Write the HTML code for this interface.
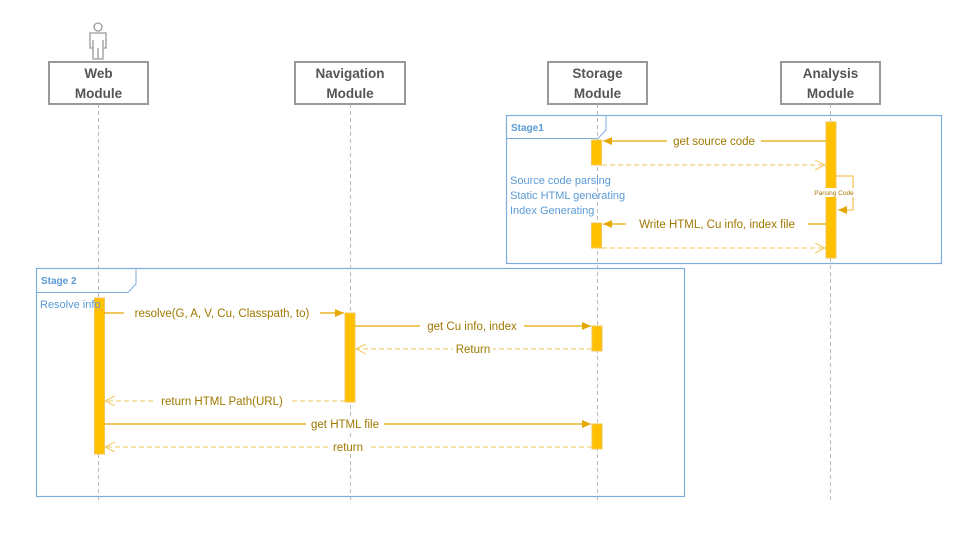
<!DOCTYPE html>
<html><head><meta charset="utf-8"><style>
html,body{margin:0;padding:0;background:#fff;width:954px;height:554px;overflow:hidden}
svg text{font-family:"Liberation Sans",sans-serif}
</style></head><body>
<svg width="954" height="554" viewBox="0 0 954 554" xmlns="http://www.w3.org/2000/svg">
<defs>
<marker id="f" markerWidth="10" markerHeight="10" refX="9" refY="4" orient="auto" markerUnits="userSpaceOnUse"><path d="M0,0 L9,4 L0,8 Z" fill="#E5A800"/></marker>
<marker id="o" markerWidth="12" markerHeight="12" refX="10" refY="5" orient="auto" markerUnits="userSpaceOnUse"><path d="M0,0 L10,5 L0,10" fill="none" stroke="#F2C65A" stroke-width="1"/></marker>
</defs>
<g stroke="#bbb" stroke-dasharray="4,3" stroke-width="1">
<line x1="98.5" y1="104" x2="98.5" y2="502"/>
<line x1="350.5" y1="104" x2="350.5" y2="502"/>
<line x1="597.5" y1="104" x2="597.5" y2="502"/>
<line x1="830.5" y1="104" x2="830.5" y2="502"/>
</g>
<g fill="none" stroke="#999" stroke-width="1.3">
<circle cx="98" cy="27" r="4"/>
<path d="M90,33 H106 V48 H103 V59 H93 V48 H90 Z M93,40 V48 M103,40 V48 M98,48 V59"/>
</g>
<g fill="#fff" stroke="#999" stroke-width="2">
<rect x="49" y="62" width="99" height="42"/>
<rect x="295" y="62" width="110" height="42"/>
<rect x="548" y="62" width="99" height="42"/>
<rect x="781" y="62" width="99" height="42"/>
</g>
<g font-size="13.5" font-weight="bold" fill="#555" text-anchor="middle">
<text x="98.5" y="78">Web</text><text x="98.5" y="98">Module</text>
<text x="350" y="78">Navigation</text><text x="350" y="98">Module</text>
<text x="597.5" y="78">Storage</text><text x="597.5" y="98">Module</text>
<text x="830.5" y="78">Analysis</text><text x="830.5" y="98">Module</text>
</g>
<rect x="506.5" y="115.5" width="435" height="148" fill="none" stroke="#7FAEDC" stroke-width="1.2"/>
<path d="M506.5,138.5 H598 L606,130 V115.5" fill="none" stroke="#7FAEDC" stroke-width="1"/>
<text x="511" y="131" font-size="10" font-weight="bold" fill="#5B9BD5">Stage1</text>
<g font-size="11" fill="#5B9BD5">
<text x="510" y="184">Source code parsing</text>
<text x="510" y="199">Static HTML generating</text>
<text x="510" y="214">Index Generating</text>
</g>
<rect x="36.5" y="268.5" width="648" height="228" fill="none" stroke="#7FAEDC" stroke-width="1.2"/>
<path d="M36.5,292.5 H128 L136,284 V268.5" fill="none" stroke="#7FAEDC" stroke-width="1"/>
<text x="41" y="284" font-size="10" font-weight="bold" fill="#5B9BD5">Stage 2</text>
<g fill="#FFC000" stroke="#F2C65A" stroke-width="1">
<rect x="826" y="122" width="10" height="136"/>
<rect x="591.5" y="140" width="10" height="25"/>
<rect x="591.5" y="223" width="10" height="25"/>
<rect x="94.5" y="298" width="10" height="156"/>
<rect x="345" y="313" width="10" height="89"/>
<rect x="592" y="326" width="10" height="25"/>
<rect x="592" y="424" width="10" height="25"/>
</g>
<text x="40" y="308" font-size="11" fill="#5B9BD5">Resolve info</text>
<g stroke="#E5A800" stroke-width="1.3" fill="none">
<line x1="826" y1="141" x2="603" y2="141" marker-end="url(#f)"/>
<line x1="826" y1="224" x2="603" y2="224" marker-end="url(#f)"/>
<line x1="104" y1="313" x2="344" y2="313" marker-end="url(#f)"/>
<line x1="355" y1="326" x2="591" y2="326" marker-end="url(#f)"/>
<line x1="104" y1="424" x2="591" y2="424" marker-end="url(#f)"/>
</g>
<path d="M836,176 H853 V210 H838" fill="none" stroke="#F2C65A" stroke-width="1.3" marker-end="url(#f)"/>
<g stroke="#F2C65A" stroke-width="1" stroke-dasharray="5,3" fill="none">
<line x1="602" y1="165" x2="825" y2="165" marker-end="url(#o)"/>
<line x1="602" y1="248" x2="825" y2="248" marker-end="url(#o)"/>
<line x1="592" y1="349" x2="356" y2="349" marker-end="url(#o)"/>
<line x1="345" y1="401" x2="105" y2="401" marker-end="url(#o)"/>
<line x1="592" y1="447" x2="105" y2="447" marker-end="url(#o)"/>
</g>
<g font-size="11.5" fill="#A07800" text-anchor="middle">
<rect x="667" y="133" width="94" height="15" fill="#fff"/><text x="714" y="145">get source code</text>
<rect x="626" y="216" width="182" height="15" fill="#fff"/><text x="717" y="228">Write HTML, Cu info, index file</text>
<rect x="124" y="305" width="196" height="15" fill="#fff"/><text x="222" y="317">resolve(G, A, V, Cu, Classpath, to)</text>
<rect x="420" y="318" width="104" height="15" fill="#fff"/><text x="472" y="330">get Cu info, index</text>
<rect x="453" y="341" width="40" height="15" fill="#fff"/><text x="473" y="353">Return</text>
<rect x="153" y="393" width="138" height="15" fill="#fff"/><text x="222" y="405">return HTML Path(URL)</text>
<rect x="306" y="416" width="78" height="15" fill="#fff"/><text x="345" y="428">get HTML file</text>
<rect x="328" y="439" width="40" height="15" fill="#fff"/><text x="348" y="451">return</text>
</g>
<rect x="812" y="188" width="44" height="9" fill="#fff"/>
<text x="834" y="195" font-size="6.5" fill="#A07800" text-anchor="middle">Parsing Code</text>
</svg>
</body></html>
